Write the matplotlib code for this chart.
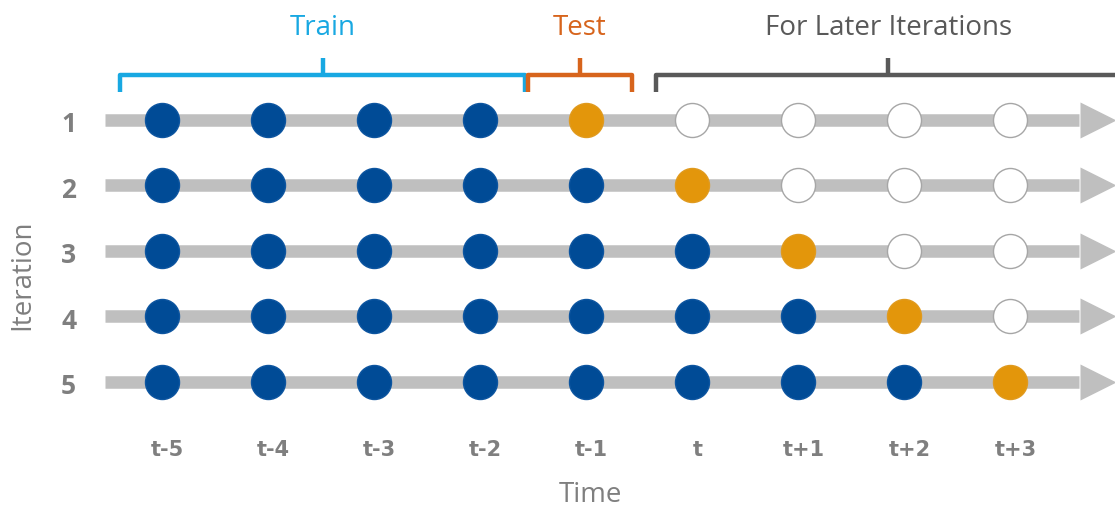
import matplotlib.pyplot as plt

# time steps along the x axis and the iterations down the y axis
time_labels = ["t-5", "t-4", "t-3", "t-2", "t-1", "t", "t+1", "t+2", "t+3"]
iterations = [1, 2, 3, 4, 5]

# state of every point: "train", "test" or "later"
row_1 = ["train"] * 4 + ["test"] + ["later"] * 4
row_2 = ["train"] * 5 + ["test"] + ["later"] * 3
row_3 = ["train"] * 6 + ["test"] + ["later"] * 2
row_4 = ["train"] * 7 + ["test"] + ["later"] * 1
row_5 = ["train"] * 8 + ["test"]
states = [row_1, row_2, row_3, row_4, row_5]

# bracket groups: label, left edge, right edge, centre tick
groups = [("Train", -0.40, 3.42, 1.52),
          ("Test", 3.45, 4.43, 3.94),
          ("For Later Iterations", 4.66, 9.2, 6.85)]

face = {"train": "#004b96", "test": "#e3960b", "later": "white"}
edge = {"train": "#0d55a0", "test": "#e09a1e", "later": "#a6a6a6"}
group_col = {"Train": "#18a8e2", "Test": "#d7641c", "For Later Iterations": "#595959"}
grey = "#7f7f7f"

fig = plt.figure(figsize=(11.15, 5.08), dpi=100)
ax = fig.add_axes([0, 0, 1, 1])
ax.set_xlim(-1.528, 8.99)
ax.set_ylim(6.924, -0.832)
ax.axis("off")

font = ["Open Sans", "DejaVu Sans"]

for it, row in zip(iterations, states):
    # grey arrow shaft and head
    ax.plot([-0.54, 8.65], [it, it], color="#bfbfbf", lw=9, solid_capstyle="butt", zorder=1)
    ax.plot([8.83], [it], marker=">", ms=26, color="#bfbfbf", mec="none", zorder=1)
    for x, st in enumerate(row):
        ax.scatter(x, it, s=600, c=face[st], edgecolors=edge[st], linewidths=1.0, zorder=3)
    ax.text(-0.88, it + 0.07, str(it), ha="center", va="center", fontsize=19,
            fontweight="bold", color=grey, family=font)

for x, lab in enumerate(time_labels):
    ax.text(x + 0.05, 6.04, lab, ha="center", va="center", fontsize=15, fontweight="bold",
            color=grey, family=["Liberation Sans Narrow", "DejaVu Sans"])

ax.text(4.04, 6.72, "Time", ha="center", va="center", fontsize=20, color=grey, family=font)
ax.text(-1.32, 3.37, "Iteration", ha="center", va="center", rotation=90, fontsize=20,
        color=grey, family=font)

# brackets above the first row
for lab, x0, x1, xm in groups:
    col = group_col[lab]
    ax.plot([x0, x0, x1, x1], [0.57, 0.31, 0.31, 0.57], color=col, lw=3.2,
            solid_joinstyle="round", solid_capstyle="butt", zorder=2)
    ax.plot([xm, xm], [0.31, 0.06], color=col, lw=3.2, solid_capstyle="butt", zorder=2)
    ax.text(xm, -0.40, lab, ha="center", va="center", fontsize=20, color=col, family=font)

fig.savefig("out.png", dpi=100)
